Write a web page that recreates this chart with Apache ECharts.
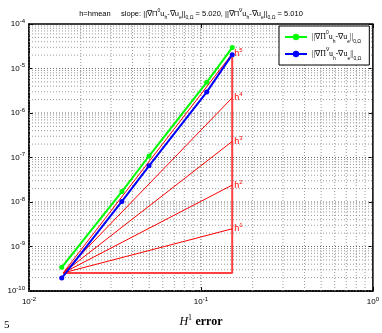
<!DOCTYPE html>
<html>
<head>
<meta charset="utf-8">
<script src="https://cdn.jsdelivr.net/npm/echarts@6/dist/echarts.min.js"></script>
<style>
  html, body { margin: 0; padding: 0; background: #fff; }
  #main { width: 382px; height: 333px; }
</style>
</head>
<body>
<div id="main"></div>
<script>
// mesh sizes (H1 error axis) and errors
const hValues = [0.0155, 0.0347, 0.0499, 0.108, 0.152];
const errPi0 = [3.4e-10, 1.72e-8, 1.08e-7, 4.9e-6, 2.95e-5];
const errPiGrad = [1.95e-10, 1.03e-8, 6.5e-8, 2.95e-6, 2.05e-5];
// slope triangle: corner, right edge and the h^k end values
const triStart = [0.0158, 2.55e-10];
const triEndX = 0.152;
const triEnds = [2.5e-9, 2.4e-8, 2.3e-7, 2.2e-6, 2.15e-5];
const slopeNames = ['1', '2', '3', '4', '5'];
// axis ranges
const xRange = [0.01, 1];
const yRange = [1e-10, 1e-4];

let chartDom = document.getElementById('main');
let myChart = echarts.init(chartDom);

const supRich = {
    n: { fontSize: 8, lineHeight: 12, color: '#000', fontFamily: 'Liberation Sans' },
    s: { fontSize: 6, lineHeight: 7, verticalAlign: 'top', color: '#000', fontFamily: 'Liberation Sans' }
};
const expLabel = v => '{n|10}{s|' + Math.round(Math.log10(v)) + '}';

// dotted log grid positions
const gridX = [];
for (let d = -2; d < 0; d++) for (let m = 1; m < 10; m++) gridX.push(m * Math.pow(10, d));
const gridY = [];
for (let d = -10; d < -4; d++) for (let m = 1; m < 10; m++) gridY.push(m * Math.pow(10, d));

const legendRich = {
    t: { fontSize: 8, lineHeight: 14, fontFamily: 'Liberation Serif', color: '#000' },
    p: { fontSize: 5, lineHeight: 8, verticalAlign: 'top', fontFamily: 'Liberation Sans', color: '#000' },
    b: { fontSize: 5, lineHeight: 8, verticalAlign: 'bottom', fontFamily: 'Liberation Sans', color: '#000' }
};
const legendText = {
    g: '{t|||∇Π}{p|0}{t|u}{b|h}{t|-∇u}{b|e}{t|||}{b|0,Ω}',
    b: '{t|||∇Π}{p|∇}{t|u}{b|h}{t|-∇u}{b|e}{t|||}{b|0,Ω}'
};

let series = [];
const gridStyle = (major) => ({ color: major ? '#666' : '#999', type: [1, 2], width: 1 });
gridX.forEach((v, i) => {
    series.push({
        type: 'line', silent: true, symbol: 'none', z: 1,
        data: [[v, yRange[0]], [v, yRange[1]]],
        lineStyle: gridStyle(i % 9 === 0)
    });
});
gridY.forEach((v, i) => {
    series.push({
        type: 'line', silent: true, symbol: 'none', z: 1,
        data: [[xRange[0], v], [xRange[1], v]],
        lineStyle: gridStyle(i % 9 === 0)
    });
});

// slope triangle
series.push({
    type: 'line',
    data: [triStart, [triEndX, triStart[1]], [triEndX, triEnds[4]]],
    symbol: 'none',
    lineStyle: { color: '#ff4040', width: 2 },
    silent: true,
    z: 3
});
slopeNames.forEach((k, i) => {
    series.push({
        type: 'line',
        data: [triStart, [triEndX, triEnds[i]]],
        symbol: 'none',
        lineStyle: { color: '#ff0000', width: 1 },
        silent: true,
        z: 3,
        endLabel: {
            show: true,
            distance: 2,
            formatter: () => '{h|h}{k|' + k + '}',
            rich: {
                h: { fontSize: 9, lineHeight: 12, color: '#ff0000', fontFamily: 'Liberation Sans' },
                k: { fontSize: 6, lineHeight: 7, verticalAlign: 'top', color: '#ff0000', fontFamily: 'Liberation Sans' }
            }
        }
    });
});

series.push({
    name: 'g',
    type: 'line',
    data: hValues.map((h, i) => [h, errPi0[i]]),
    symbol: 'circle',
    symbolSize: 5,
    itemStyle: { color: '#00ff00' },
    lineStyle: { color: '#00ff00', width: 2 },
    z: 5
});
series.push({
    name: 'b',
    type: 'line',
    data: hValues.map((h, i) => [h, errPiGrad[i]]),
    symbol: 'circle',
    symbolSize: 5,
    itemStyle: { color: '#0000ff' },
    lineStyle: { color: '#0000ff', width: 2 },
    z: 5
});

let option = {
    animation: false,
    backgroundColor: '#fff',
    title: [
        {
            text: '{t|h=hmean     slope: ||∇Π}{p|0}{t|u}{b|h}{t|-∇u}{b|e}{t|||}{b|0,Ω}{t| = 5.020, ||∇Π}{p|∇}{t|u}{b|h}{t|-∇u}{b|e}{t|||}{b|0,Ω}{t| = 5.010}',
            left: 'center',
            top: 3,
            textStyle: {
                fontSize: 7, fontWeight: 'normal', color: '#000', fontFamily: 'Liberation Sans',
                rich: {
                    t: { fontSize: 7.5, lineHeight: 12, color: '#000', fontFamily: 'Liberation Sans' },
                    p: { fontSize: 5, lineHeight: 7, verticalAlign: 'top', color: '#000' },
                    b: { fontSize: 5, lineHeight: 7, verticalAlign: 'bottom', color: '#000' }
                }
            }
        },
        {
            text: '5',
            left: -1,
            top: 315,
            textStyle: { fontSize: 11, fontWeight: 'normal', color: '#000', fontFamily: 'Liberation Serif' }
        }
    ],
    legend: {
        data: ['g', 'b'],
        orient: 'vertical',
        left: 279,
        top: 26,
        padding: [4, 8, 4, 5],
        itemGap: 3,
        itemWidth: 22,
        itemHeight: 8,
        backgroundColor: '#fff',
        borderColor: '#000',
        borderWidth: 1,
        formatter: name => legendText[name],
        textStyle: { rich: legendRich }
    },
    grid: {
        left: 29, right: 9, top: 24, bottom: 38,
        show: true,
        borderColor: '#000',
        borderWidth: 1.5,
        backgroundColor: '#fff'
    },
    xAxis: [
        {
            type: 'log',
            min: xRange[0],
            max: xRange[1],
            logBase: 10,
            axisLine: { lineStyle: { color: '#000', width: 1.5 } },
            axisTick: { inside: true, length: 4, lineStyle: { color: '#000' } },
            axisLabel: { formatter: expLabel, rich: supRich, margin: 5 },
            splitLine: { show: false },
            name: '{i|H}{s|1} {b|error}',
            nameLocation: 'middle',
            nameGap: 23,
            nameTextStyle: {
                rich: {
                    i: { fontSize: 12, fontStyle: 'italic', fontFamily: 'Liberation Serif', color: '#000', lineHeight: 16 },
                    s: { fontSize: 8, verticalAlign: 'top', lineHeight: 9, fontFamily: 'Liberation Serif', color: '#000' },
                    b: { fontSize: 12, fontWeight: 'bold', fontFamily: 'Liberation Serif', color: '#000', lineHeight: 16 }
                }
            }
        },
        {
            type: 'log',
            position: 'top',
            min: xRange[0],
            max: xRange[1],
            axisLine: { show: false },
            axisTick: { inside: true, length: 4, lineStyle: { color: '#000' } },
            axisLabel: { show: false },
            splitLine: { show: false }
        }
    ],
    yAxis: [
        {
            type: 'log',
            min: yRange[0],
            max: yRange[1],
            axisLine: { show: true, lineStyle: { color: '#000', width: 1.5 } },
            axisTick: { show: true, inside: true, length: 4, lineStyle: { color: '#000' } },
            axisLabel: { formatter: expLabel, rich: supRich, margin: 4 },
            splitLine: { show: false }
        },
        {
            type: 'log',
            position: 'right',
            min: yRange[0],
            max: yRange[1],
            axisLine: { show: false },
            axisTick: { show: true, inside: true, length: 4, lineStyle: { color: '#000' } },
            axisLabel: { show: false },
            splitLine: { show: false }
        }
    ],
    series: series
};

option && myChart.setOption(option);
</script>
</body>
</html>
